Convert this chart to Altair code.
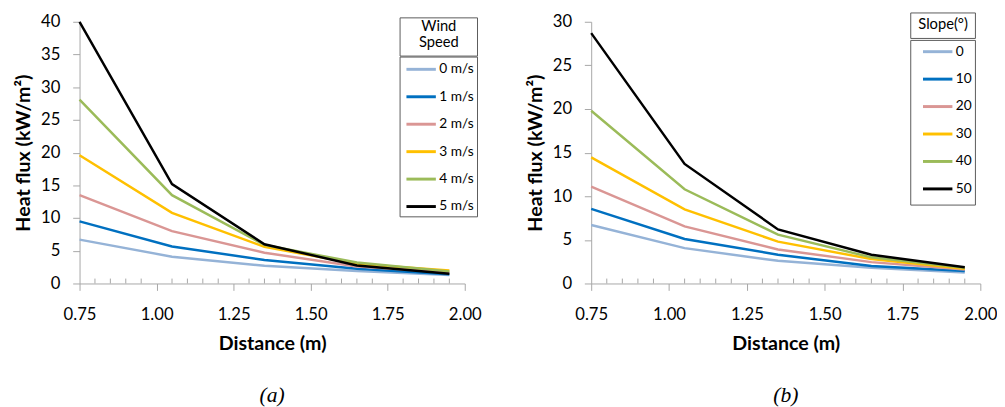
import altair as alt
import pandas as pd

# ---------------- data ----------------
distance = [0.75, 1.05, 1.35, 1.65, 1.95]

wind_labels = ["0 m/s", "1 m/s", "2 m/s", "3 m/s", "4 m/s", "5 m/s"]
wind_0 = [6.7, 4.1, 2.7, 1.9, 1.3]
wind_1 = [9.5, 5.65, 3.6, 2.25, 1.4]
wind_2 = [13.5, 8.0, 4.7, 2.6, 1.7]
wind_3 = [19.6, 10.8, 5.6, 3.0, 2.0]
wind_4 = [28.1, 13.5, 5.9, 3.2, 1.85]
wind_5 = [40.0, 15.2, 6.0, 2.75, 1.5]

slope_labels = ["0", "10", "20", "30", "40", "50"]
slope_0 = [6.7, 4.05, 2.6, 1.8, 1.25]
slope_10 = [8.55, 5.1, 3.3, 2.0, 1.43]
slope_20 = [11.1, 6.55, 3.9, 2.45, 1.6]
slope_30 = [14.45, 8.5, 4.8, 2.8, 1.7]
slope_40 = [19.8, 10.8, 5.6, 3.0, 1.8]
slope_50 = [28.7, 13.7, 6.2, 3.3, 1.87]

line_colors = ["#95B3D7", "#0070C0", "#DA9694", "#FFC000", "#9BBB59", "#000000"]

major_ticks = [0.75, 1.00, 1.25, 1.50, 1.75, 2.00]
minor_ticks = [0.80, 0.85, 0.90, 0.95, 1.05, 1.10, 1.15, 1.20,
               1.30, 1.35, 1.40, 1.45, 1.55, 1.60, 1.65, 1.70,
               1.80, 1.85, 1.90, 1.95]

FONT = "Lato"
AXIS_GRAY = "#A6A6A6"
BOX_GRAY = "#595959"


def long_table(labels, series):
    rows = []
    for lab, vals in zip(labels, series):
        for d, v in zip(distance, vals):
            rows.append({"Distance": d, "Flux": v, "Series": lab})
    return pd.DataFrame(rows)


def frame(x0, x1, y0, y1):
    return alt.Chart(alt.Data(values=[{}])).mark_rect(
        fill="white", stroke=BOX_GRAY, strokeWidth=1
    ).encode(x=alt.value(x0), x2=alt.value(x1), y=alt.value(y0), y2=alt.value(y1))


def panel(df, labels, ymax, width, height, legend_x, legend_y, row_pad,
          title_box, entries_box, title_lines, title_line_height, title_y, caption):
    xscale = alt.Scale(domain=[0.75, 2.0], nice=False, zero=False)
    xaxis = alt.Axis(values=major_ticks, format=".2f", title="Distance  (m)",
                     grid=False, domainColor=AXIS_GRAY, tickColor=AXIS_GRAY,
                     tickSize=7, labelFont=FONT, labelFontSize=17,
                     labelColor="#000000", labelPadding=17, labelFlush=False,
                     titleFont=FONT, titleFontSize=20, titleFontWeight="bold",
                     titleColor="#000000", titlePadding=11)
    lines = alt.Chart(df).mark_line(strokeWidth=2.5).encode(
        x=alt.X("Distance:Q", scale=xscale, axis=xaxis),
        y=alt.Y("Flux:Q", scale=alt.Scale(domain=[0, ymax], nice=False),
                axis=alt.Axis(values=list(range(0, ymax + 1, 5)), title="Heat flux (kW/m²)",
                              grid=False, domainColor=AXIS_GRAY, tickColor=AXIS_GRAY,
                              tickSize=7, labelFont=FONT, labelFontSize=17,
                              labelColor="#000000", labelPadding=13,
                              titleFont=FONT, titleFontSize=20, titleFontWeight="bold",
                              titleColor="#000000", titlePadding=7)),
        color=alt.Color("Series:N",
                        scale=alt.Scale(domain=labels, range=line_colors),
                        sort=labels,
                        legend=alt.Legend(title=None, orient="none",
                                          legendX=legend_x, legendY=legend_y,
                                          padding=0, symbolType="stroke",
                                          symbolSize=900, symbolStrokeWidth=3,
                                          labelFont=FONT, labelFontSize=14,
                                          labelColor="#000000", labelOffset=2,
                                          rowPadding=row_pad)),
        order=alt.Order("Series:N"),
    )

    # minor tick marks on the distance axis, pointing into the plot
    minor = alt.Chart(pd.DataFrame({"Distance": minor_ticks})).mark_rule(
        color=AXIS_GRAY, strokeWidth=1
    ).encode(
        x=alt.X("Distance:Q", scale=xscale, axis=xaxis),
        y=alt.value(height - 5),
        y2=alt.value(height),
    )

    tbox = frame(*title_box)
    ebox = frame(*entries_box)
    txt = alt.Chart(alt.Data(values=[{}])).mark_text(
        text=title_lines, font=FONT, fontSize=15, lineHeight=title_line_height,
        align="center", baseline="top", color="#000000"
    ).encode(
        x=alt.value((title_box[0] + title_box[1]) / 2),
        y=alt.value(title_y),
    )

    return alt.layer(minor, lines, tbox, ebox, txt).properties(
        width=width, height=height,
        title=alt.TitleParams(caption, orient="bottom", font="Liberation Serif",
                              fontStyle="italic", fontWeight="normal", fontSize=22,
                              color="#000000", offset=33),
    )


df_wind = long_table(wind_labels, [wind_0, wind_1, wind_2, wind_3, wind_4, wind_5])
df_slope = long_table(slope_labels, [slope_0, slope_10, slope_20, slope_30, slope_40, slope_50])

left = panel(df_wind, wind_labels, 40, 393, 267, 332, 32, 4,
             (327, 406, -4, 35), (327, 406, 36, 199), ["Wind", "Speed"], 17, -3, "(a)")
right = panel(df_slope, slope_labels, 30, 397, 267, 337, 14, 4,
              (326, 392, -9, 17), (326, 392, 19, 187), ["Slope(°)"], 15, -5, "(b)")

chart = alt.hconcat(left, right, spacing=45).resolve_scale(color="independent").properties(
    padding={"left": 6, "top": 0, "right": 0, "bottom": 0}
).configure_view(stroke=None)

chart.save("out.html", embed_options={"renderer": "svg", "actions": False})
